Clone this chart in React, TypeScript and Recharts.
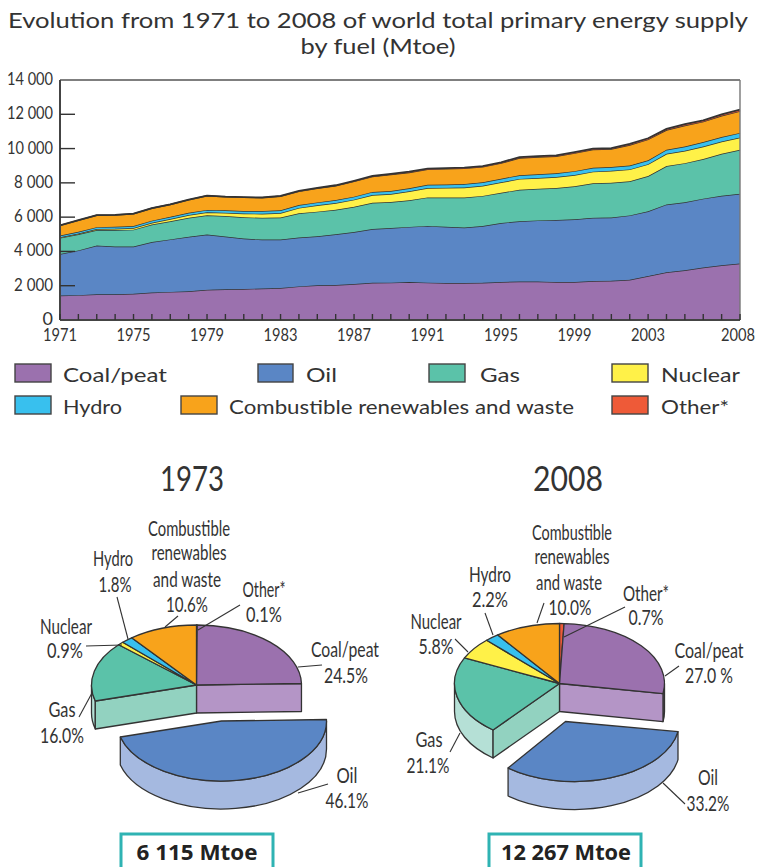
import React from "react";
import { AreaChart, Area, XAxis, YAxis, ReferenceLine, Legend, PieChart, Pie } from "recharts";

const years = [1971,1972,1973,1974,1975,1976,1977,1978,1979,1980,1981,1982,1983,1984,1985,1986,1987,1988,1989,1990,1991,1992,1993,1994,1995,1996,1997,1998,1999,2000,2001,2002,2003,2004,2005,2006,2007,2008];
const coal = [1430,1450,1500,1500,1530,1600,1640,1680,1760,1790,1810,1840,1870,1960,2030,2040,2100,2170,2180,2220,2180,2160,2160,2170,2220,2240,2240,2210,2220,2270,2290,2350,2560,2780,2900,3060,3190,3300];
const oil = [2420,2610,2840,2790,2760,2950,3060,3170,3230,3080,2940,2850,2820,2850,2850,2960,3030,3140,3190,3210,3310,3280,3230,3310,3440,3520,3570,3620,3650,3690,3690,3750,3780,3960,3970,4020,4060,4060];
const gas = [940,940,910,960,980,1020,1060,1110,1120,1190,1240,1270,1290,1410,1440,1430,1470,1530,1510,1550,1660,1710,1760,1760,1760,1840,1840,1870,1930,2020,2030,1990,2060,2240,2280,2310,2450,2570];
const nuclear = [30,40,55,70,90,100,130,160,170,190,220,240,260,320,370,390,420,450,470,525,550,560,580,590,610,630,630,640,660,675,695,695,690,715,720,730,710,712];
const hydro = [104,108,110,121,124,125,128,136,142,147,150,153,159,165,170,173,175,180,178,184,188,187,197,199,212,215,218,221,222,225,222,224,225,240,250,260,265,270];
const combustible = [592,667,694,682,708,726,722,752,825,788,793,777,818,798,820,835,890,892,962,919,898,917,916,902,907,1002,1008,984,1051,1060,1041,1196,1217,1143,1225,1191,1242,1269];
const other = [4,5,6,7,8,9,10,12,13,15,17,20,23,27,30,32,35,38,40,42,44,46,47,49,51,53,54,55,57,60,62,65,68,72,75,79,83,86];

const yTicks = [0,2000,4000,6000,8000,10000,12000,14000];
const yTickLabels = ["0","2 000","4 000","6 000","8 000","10 000","12 000","14 000"];
const xTickLabels = [1971,1975,1979,1983,1987,1991,1995,1999,2003,2008];

const FUELS = {
  coal: "Coal/peat", oil: "Oil", gas: "Gas", nuclear: "Nuclear", hydro: "Hydro",
  combustible: "Combustible renewables and waste", other: "Other*",
};
const pieFuels = [FUELS.other, FUELS.coal, FUELS.oil, FUELS.gas, FUELS.nuclear, FUELS.hydro, FUELS.combustible];
const share1973 = [0.1, 24.5, 46.1, 16.0, 0.9, 1.8, 10.6];
const share2008 = [0.7, 27.0, 33.2, 21.1, 5.8, 2.2, 10.0];

const rows = years.map((year, i) => ({
  year, coal: coal[i], oil: oil[i], gas: gas[i], nuclear: nuclear[i],
  hydro: hydro[i], combustible: combustible[i], other: other[i],
}));
const pie1973 = pieFuels.map((name, i) => ({ name, value: share1973[i] }));
const pie2008 = pieFuels.map((name, i) => ({ name, value: share2008[i] }));

const COLOR: Record<string, string> = {
  [FUELS.coal]: "#9b71ae", [FUELS.oil]: "#5a86c5", [FUELS.gas]: "#5bc2a9",
  [FUELS.nuclear]: "#fff148", [FUELS.hydro]: "#38c0ee", [FUELS.combustible]: "#f8a31b",
  [FUELS.other]: "#ee5a38",
};
const WALL: Record<string, string> = {
  [FUELS.coal]: "#b495c6", [FUELS.oil]: "#a5b9e0", [FUELS.gas]: "#b5e0d6",
};
const RADIAL_WALL: Record<string, string> = { [FUELS.coal]: "#b495c6", [FUELS.gas]: "#92d2c0" };
const INK = "#333";
const LABEL_FONT = "Lato, sans-serif";
const RX = 105, RY = 60, DEPTH = 28;

function ellipsePoint(cx: number, cy: number, theta: number) {
  const r = (theta * Math.PI) / 180;
  return { x: cx + RX * Math.sin(r), y: cy - RY * Math.cos(r) };
}
function arc(to: { x: number; y: number }, span: number, sweep: number) {
  return `A${RX} ${RY} 0 ${span > 180 ? 1 : 0} ${sweep} ${to.x} ${to.y}`;
}

function makeSlice(explode: { dx: number; dy: number; apexDx: number }) {
  return function Slice(props: any) {
    const name = props.name ?? props.payload?.name;
    const a = 90 - Math.max(props.startAngle, props.endAngle);
    const b = 90 - Math.min(props.startAngle, props.endAngle);
    const isOil = name === FUELS.oil;
    const cx = props.cx + (isOil ? explode.dx : 0);
    const cy = props.cy + (isOil ? explode.dy : 0);
    const apexX = cx + (isOil ? explode.apexDx : 0);
    const p1 = ellipsePoint(cx, cy, a);
    const p2 = ellipsePoint(cx, cy, b);
    const top = `M${apexX} ${cy}L${p1.x} ${p1.y}${arc(p2, b - a, 1)}Z`;
    const wa = Math.max(a, 90), wb = Math.min(b, 270);
    let outer = null;
    if (WALL[name] && wb > wa) {
      const q1 = ellipsePoint(cx, cy, wa);
      const q2 = ellipsePoint(cx, cy, wb);
      outer = `M${q1.x} ${q1.y}${arc(q2, wb - wa, 1)}L${q2.x} ${q2.y + DEPTH}${arc({ x: q1.x, y: q1.y + DEPTH }, wb - wa, 0)}Z`;
    }
    let radial = null;
    if (RADIAL_WALL[name]) {
      const e = name === FUELS.coal ? p2 : p1;
      radial = `M${cx} ${cy}L${e.x} ${e.y}L${e.x} ${e.y + DEPTH}L${cx} ${cy + DEPTH}Z`;
    }
    return (
      <g>
        {outer && <path d={outer} fill={WALL[name]} stroke={INK} strokeWidth={1.3} strokeLinejoin="round" />}
        {radial && <path d={radial} fill={RADIAL_WALL[name]} stroke={INK} strokeWidth={1.3} strokeLinejoin="round" />}
        <path d={top} fill={COLOR[name]} stroke={INK} strokeWidth={1.3} strokeLinejoin="round" />
      </g>
    );
  };
}
const Slice1973 = makeSlice({ dx: 25, dy: 36, apexDx: 0 });
const Slice2008 = makeSlice({ dx: 15, dy: 38, apexDx: -9 });

function XTick(props: any) {
  const { x, y, payload } = props;
  const show = xTickLabels.includes(payload.value);
  const lx = payload.value === 2008 ? x - 2 : x;
  return (
    <g>
      <line x1={x} x2={x} y1={y} y2={y - 6} stroke={INK} strokeWidth={1.4} />
      {show && (
        <text x={lx} y={y + 21} textAnchor="middle" fontFamily={LABEL_FONT} fontSize={18} fill={INK} textLength={34} lengthAdjust="spacingAndGlyphs">
          {payload.value}
        </text>
      )}
    </g>
  );
}
function YTick(props: any) {
  const { y, payload } = props;
  const label = yTickLabels[yTicks.indexOf(payload.value)];
  const len = label.length > 5 ? { textLength: 46 } : label.length > 1 ? { textLength: 39 } : {};
  return (
    <g>
      {payload.value > 0 && payload.value < 14000 && (
        <line x1={60} x2={75} y1={y} y2={y} stroke={INK} strokeWidth={1.4} />
      )}
      <text x={53} y={y + 5} textAnchor="end" fontFamily={LABEL_FONT} fontSize={18} fill={INK} lengthAdjust="spacingAndGlyphs" {...len}>
        {label}
      </text>
    </g>
  );
}

const LEGEND_SLOTS: Record<string, { sx: number; sy: number; sw: number; tx: number; tw: number }> = {
  [FUELS.coal]: { sx: 15, sy: 364, sw: 36, tx: 63, tw: 104 },
  [FUELS.oil]: { sx: 258, sy: 364, sw: 35, tx: 306, tw: 31 },
  [FUELS.gas]: { sx: 429, sy: 364, sw: 36, tx: 480, tw: 40 },
  [FUELS.nuclear]: { sx: 612, sy: 364, sw: 36, tx: 661, tw: 79 },
  [FUELS.hydro]: { sx: 15, sy: 396, sw: 36, tx: 63, tw: 59 },
  [FUELS.combustible]: { sx: 181, sy: 396, sw: 36, tx: 229, tw: 345 },
  [FUELS.other]: { sx: 612, sy: 396, sw: 36, tx: 661, tw: 68 },
};
const LEGEND_TOP = 350;
function LegendBody(props: any) {
  return (
    <svg width={758} height={80} style={{ display: "block" }}>
      {(props.payload || []).map((e: any) => {
        const s = LEGEND_SLOTS[e.value];
        if (!s) return null;
        const y = s.sy - LEGEND_TOP;
        return (
          <g key={e.value}>
            <rect x={s.sx} y={y} width={s.sw} height={18} fill={COLOR[e.value]} stroke="#444" strokeWidth={1.4} />
            <text x={s.tx} y={y + 18} fontFamily={LABEL_FONT} fontSize={20} fill={INK} textLength={s.tw} lengthAdjust="spacingAndGlyphs">
              {e.value}
            </text>
          </g>
        );
      })}
    </svg>
  );
}

type L = [string, number, number, number];
const labels: L[] = [
  ["Combustible", 189, 536, 82], ["renewables", 189, 560, 75], ["and waste", 187, 587, 68], ["10.6%", 187, 612, 42],
  ["Hydro", 113, 566, 40], ["1.8%", 115, 592, 33], ["Nuclear", 66, 634, 52], ["0.9%", 65, 658, 36],
  ["Other*", 264, 597, 43], ["0.1%", 264, 622, 36], ["Coal/peat", 345, 657, 68], ["24.5%", 346, 683, 44],
  ["Gas", 62, 717, 27], ["16.0%", 62, 743, 44], ["Oil", 347, 783, 21], ["46.1%", 347, 808, 43],
  ["Combustible", 572, 540, 80], ["renewables", 572, 564, 75], ["and waste", 569, 590, 66], ["10.0%", 570, 615, 43],
  ["Hydro", 490, 582, 42], ["2.2%", 490, 607, 36], ["Nuclear", 436, 629, 51], ["5.8%", 436, 654, 35],
  ["Other*", 646, 601, 46], ["0.7%", 646, 625, 35], ["Coal/peat", 709, 658, 69], ["27.0 %", 709, 683, 48],
  ["Gas", 429, 747, 27], ["21.1%", 428, 773, 43], ["Oil", 708, 785, 20], ["33.2%", 708, 811, 43],
];
const leaders = [
  [240,605,198,630],[298,667,322,665],[86,646,122,645],[117,597,128,639],[178,616,165,627],[79,717,92,693],[328,784,298,793],
  [625,607,564,637],[679,666,665,676],[455,639,468,652],[485,613,493,635],[544,603,537,623],[450,752,460,733],[685,804,663,783],
];

const areaStyle = { stackId: "a", fillOpacity: 1, stroke: INK, strokeWidth: 1.4, isAnimationActive: false, dot: false } as const;

export default function App() {
  return (
    <div style={{ position: "absolute", left: 0, top: 0, width: 758, height: 867, overflow: "hidden", background: "#fff" }}>
      <div style={{ position: "absolute", left: 0, top: 0 }}>
        <AreaChart width={758} height={430} data={rows} margin={{ top: 80, right: 18, left: 0, bottom: 0 }}>
          <Area type="linear" dataKey="coal" name={FUELS.coal} fill={COLOR[FUELS.coal]} {...areaStyle} />
          <Area type="linear" dataKey="oil" name={FUELS.oil} fill={COLOR[FUELS.oil]} {...areaStyle} />
          <Area type="linear" dataKey="gas" name={FUELS.gas} fill={COLOR[FUELS.gas]} {...areaStyle} />
          <Area type="linear" dataKey="nuclear" name={FUELS.nuclear} fill={COLOR[FUELS.nuclear]} {...areaStyle} />
          <Area type="linear" dataKey="hydro" name={FUELS.hydro} fill={COLOR[FUELS.hydro]} {...areaStyle} />
          <Area type="linear" dataKey="combustible" name={FUELS.combustible} fill={COLOR[FUELS.combustible]} {...areaStyle} />
          <Area type="linear" dataKey="other" name={FUELS.other} fill={COLOR[FUELS.other]} {...areaStyle} strokeWidth={1.8} />
          <ReferenceLine y={14000} stroke="#555" strokeWidth={1.6} />
          <ReferenceLine x={2008} stroke="#777" strokeWidth={1.4} />
          <XAxis dataKey="year" interval={0} height={30} tickSize={0} tickMargin={0} tick={<XTick />} axisLine={{ stroke: "#444", strokeWidth: 2 }} tickLine={false} />
          <YAxis width={60} domain={[0, 14000]} ticks={yTicks} interval={0} tickSize={0} tick={<YTick />} axisLine={{ stroke: "#444", strokeWidth: 2 }} tickLine={false} />
          <Legend verticalAlign="bottom" height={84} content={<LegendBody />} wrapperStyle={{ left: 0, top: LEGEND_TOP, width: 758, height: 80 }} />
        </AreaChart>
      </div>
      <div style={{ position: "absolute", left: 0, top: 560 }}>
        <PieChart width={379} height={307} margin={{ top: 0, right: 0, bottom: 0, left: 0 }}>
          <Pie data={pie1973} dataKey="value" nameKey="name" cx={196.5} cy={125} outerRadius={RX} startAngle={90} endAngle={-270} isAnimationActive={false} shape={<Slice1973 />} activeShape={<Slice1973 />} stroke="none" />
        </PieChart>
      </div>
      <div style={{ position: "absolute", left: 379, top: 560 }}>
        <PieChart width={379} height={307} margin={{ top: 0, right: 0, bottom: 0, left: 0 }}>
          <Pie data={pie2008} dataKey="value" nameKey="name" cx={180.5} cy={123.5} outerRadius={RX} startAngle={90} endAngle={-270} isAnimationActive={false} shape={<Slice2008 />} activeShape={<Slice2008 />} stroke="none" />
        </PieChart>
      </div>
      <svg width={758} height={867} style={{ position: "absolute", left: 0, top: 0, pointerEvents: "none" }}>
        <text x={8} y={28} fontFamily={LABEL_FONT} fontSize={21} fill={INK} textLength={740} lengthAdjust="spacingAndGlyphs">
          Evolution from 1971 to 2008 of world total primary energy supply
        </text>
        <text x={378} y={54} textAnchor="middle" fontFamily={LABEL_FONT} fontSize={21} fill={INK} textLength={155} lengthAdjust="spacingAndGlyphs">
          by fuel (Mtoe)
        </text>
        <text x={192} y={491} textAnchor="middle" fontFamily={LABEL_FONT} fontSize={34} fill={INK} textLength={64} lengthAdjust="spacingAndGlyphs">1973</text>
        <text x={568} y={491} textAnchor="middle" fontFamily={LABEL_FONT} fontSize={34} fill={INK} textLength={70} lengthAdjust="spacingAndGlyphs">2008</text>
        {leaders.map((l, i) => (
          <line key={i} x1={l[0]} y1={l[1]} x2={l[2]} y2={l[3]} stroke={INK} strokeWidth={1.1} />
        ))}
        {labels.map(([t, x, y, w], i) => (
          <text key={i} x={x} y={y} textAnchor="middle" fontFamily={LABEL_FONT} fontSize={20.5} fill={INK} textLength={w} lengthAdjust="spacingAndGlyphs">{t}</text>
        ))}
        <rect x={121} y={834} width={152} height={40} fill="#fff" stroke="#2fb3b3" strokeWidth={3} />
        <text x={197} y={860} textAnchor="middle" fontFamily="'Open Sans', sans-serif" fontWeight={700} fontSize={22} fill="#222" textLength={121} lengthAdjust="spacingAndGlyphs">6 115 Mtoe</text>
        <rect x={489} y={834} width={152} height={40} fill="#fff" stroke="#2fb3b3" strokeWidth={3} />
        <text x={566} y={860} textAnchor="middle" fontFamily="'Open Sans', sans-serif" fontWeight={700} fontSize={22} fill="#222" textLength={130} lengthAdjust="spacingAndGlyphs">12 267 Mtoe</text>
      </svg>
    </div>
  );
}
